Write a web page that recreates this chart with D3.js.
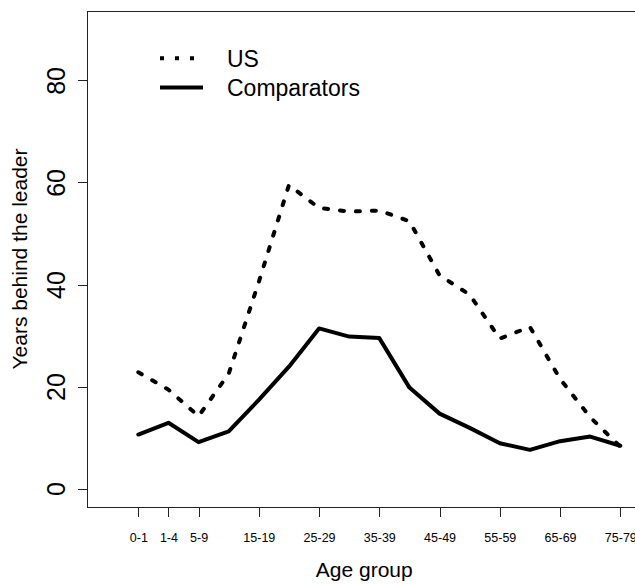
<!DOCTYPE html>
<html lang="en">
<head>
    <meta charset="utf-8">
    <title>Years behind the leader</title>
    <style>
        body {
            margin: 0;
            background-color: white;
            font-family: "Liberation Sans", Arial, sans-serif;
        }

        .axis path {
            display: none;
        }

        .axis line {
            stroke: #222;
            stroke-width: 1;
            shape-rendering: crispEdges;
        }

        .axis text {
            fill: black;
            font-family: "Liberation Sans", Arial, sans-serif;
        }
    </style>
</head>
<body>
<div id="chart"></div>
<script src="https://d3js.org/d3.v7.min.js"></script>
<script>
    // age groups, plotted at positions 1..17
    var ageGroups = ["0-1", "1-4", "5-9", "10-14", "15-19", "20-24", "25-29", "30-34", "35-39",
        "40-44", "45-49", "50-54", "55-59", "60-64", "65-69", "70-74", "75-79"];
    var xTickLabels = ["0-1", "1-4", "5-9", "15-19", "25-29", "35-39", "45-49", "55-59", "65-69", "75-79"];
    var yTicks = [0, 20, 40, 60, 80];

    var us = [22.8, 19.4, 14.2, 22.5, 40.5, 59.5, 55.0, 54.3, 54.5, 52.4, 41.8, 38.0, 29.4, 31.7, 21.5, 14.0, 8.2];
    var comparators = [10.6, 12.9, 9.1, 11.2, 17.4, 23.9, 31.4, 29.8, 29.5, 19.8, 14.7, 11.9, 8.9, 7.6, 9.3, 10.2, 8.4];

    var legendNames = ["US", "Comparators"];

    var width = 635,
        height = 584;

    // plot region (R style: 4% padding around xlim c(0,17), ylim c(0,90))
    // note: "top" is a reserved window property, so use a box object
    var box = { left: 87.7, right: 640.8, top: 11, bottom: 507 };

    var x = d3.scaleLinear().domain([-0.68, 17.68]).range([box.left, box.right]);
    var y = d3.scaleLinear().domain([-3.6, 93.6]).range([box.bottom, box.top]);

    var svg = d3.select("#chart")
        .append("svg")
        .attr("width", width)
        .attr("height", height)
        .style("display", "block");

    svg.append("rect")
        .attr("width", width)
        .attr("height", height)
        .attr("fill", "white");

    // plot frame
    svg.append("rect")
        .attr("x", box.left)
        .attr("y", box.top)
        .attr("width", box.right - box.left)
        .attr("height", box.bottom - box.top)
        .attr("fill", "none")
        .attr("stroke", "#222")
        .attr("stroke-width", 1)
        .attr("shape-rendering", "crispEdges");

    // x axis: only some age groups get a tick
    var xAxis = d3.axisBottom(x)
        .tickValues(xTickLabels.map(function(d) { return ageGroups.indexOf(d) + 1; }))
        .tickFormat(function(d) { return ageGroups[d - 1]; })
        .tickSize(10);

    svg.append("g")
        .attr("class", "x axis")
        .attr("transform", "translate(0," + box.bottom + ")")
        .call(xAxis)
        .selectAll("text")
        .attr("dy", null)
        .attr("y", 34.5)
        .style("font-size", "12.5px");

    // y axis with rotated labels
    var yAxis = d3.axisLeft(y)
        .tickValues(yTicks)
        .tickSize(10);

    svg.append("g")
        .attr("class", "y axis")
        .attr("transform", "translate(" + box.left + ",0)")
        .call(yAxis)
        .selectAll("text")
        .attr("transform", "rotate(-90)")
        .attr("x", 0)
        .attr("y", -22.7)
        .attr("dy", null)
        .style("text-anchor", "middle")
        .style("font-size", "25px");

    // axis titles
    svg.append("text")
        .attr("x", (box.left + box.right) / 2)
        .attr("y", 577)
        .attr("text-anchor", "middle")
        .style("font-size", "21px")
        .text("Age group");

    svg.append("text")
        .attr("transform", "translate(27," + (box.top + box.bottom) / 2 + ") rotate(-90)")
        .attr("text-anchor", "middle")
        .style("font-size", "21px")
        .text("Years behind the leader");

    var line = d3.line()
        .x(function(d, i) { return x(i + 1); })
        .y(function(d) { return y(d); });

    svg.append("path")
        .datum(us)
        .attr("d", line)
        .attr("fill", "none")
        .attr("stroke", "black")
        .attr("stroke-width", 4)
        .attr("stroke-linecap", "round")
        .attr("stroke-linejoin", "round")
        .attr("stroke-dasharray", "4,12");

    svg.append("path")
        .datum(comparators)
        .attr("d", line)
        .attr("fill", "none")
        .attr("stroke", "black")
        .attr("stroke-width", 4)
        .attr("stroke-linecap", "round")
        .attr("stroke-linejoin", "round");

    // legend
    var legend = svg.selectAll(".legend")
        .data(legendNames)
        .enter().append("g")
        .attr("class", "legend")
        .attr("transform", function(d, i) { return "translate(160," + (58.3 + i * 29.3) + ")"; });

    legend.append("line")
        .attr("x1", 0)
        .attr("x2", 43)
        .attr("stroke", "black")
        .attr("stroke-width", 4)
        .attr("stroke-dasharray", function(d, i) { return i === 0 ? "4,11" : null; });

    legend.append("text")
        .attr("x", 67)
        .attr("y", 8.5)
        .style("font-size", "23px")
        .text(function(d) { return d; });
</script>
</body>
</html>
